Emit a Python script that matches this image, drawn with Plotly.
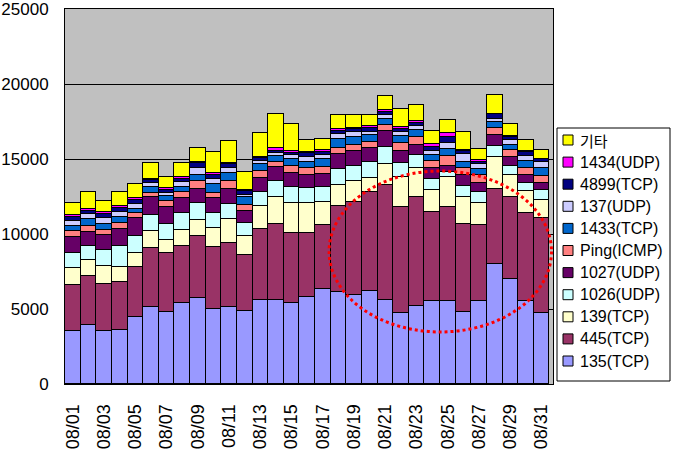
import plotly.graph_objects as go

dates = [f"08/{d:02d}" for d in range(1, 32)]
tick_labels = dates[::2]
y_ticks = [0, 5000, 10000, 15000, 20000, 25000]

s135 = [3510,3950,3510,3580,4440,5110,4780,5380,5710,4980,5160,4840,5580,5580,5380,5780,6310,6110,5910,6200,5580,4710,5220,5510,5510,4780,5510,7980,6980,5510,4710]
s445 = [3070,3230,3130,3240,3340,3930,3930,3800,4180,4180,4260,3740,4730,5060,4660,4260,4270,5760,6200,6580,7660,7070,7220,5930,6270,5860,5070,5000,5460,5870,6330]
s139 = [1130,1110,1200,960,930,1140,870,1090,1020,1260,1560,1260,1530,1800,2000,2000,1530,1370,1420,930,1400,2040,1980,1470,2040,1800,1460,2130,1470,1460,1200]
s1026 = [1050,930,1070,1400,1180,1090,1110,1110,1130,1000,1040,870,980,1070,1120,1050,1000,1070,980,1070,1140,890,870,730,340,780,740,780,650,540,690]
s1027 = [1060,940,1000,1130,1150,1170,1090,1000,960,960,960,800,890,930,930,870,870,1020,1000,930,1060,800,620,740,370,740,620,710,570,530,450]
ping = [380,400,380,450,340,320,400,440,510,380,530,400,510,380,440,420,460,430,420,420,430,580,530,460,650,420,530,440,450,470,490]
s1433 = [330,420,350,350,310,400,350,340,450,550,560,530,420,380,470,420,540,550,560,490,420,470,470,450,490,440,430,430,380,490,510]
s137 = [360,330,450,360,330,220,180,330,460,360,350,180,200,220,240,310,310,360,290,200,270,260,290,270,420,510,280,170,310,330,440]
s4899 = [220,220,270,260,250,220,220,200,290,260,220,220,200,140,180,270,200,200,220,220,170,200,180,260,400,180,180,360,220,290,160]
s1434 = [180,160,110,110,150,90,110,110,90,140,120,120,120,150,90,110,90,110,90,160,160,140,180,160,270,90,90,20,70,70,40]
other = [800,1090,750,940,890,1020,780,910,960,1370,1420,1170,1550,2270,1800,800,730,930,820,710,890,1200,1020,910,840,1220,780,1270,750,680,580]

series_names = ["135(TCP)", "445(TCP)", "139(TCP)", "1026(UDP)", "1027(UDP)", "Ping(ICMP)",
                "1433(TCP)", "137(UDP)", "4899(TCP)", "1434(UDP)", "기타"]
series_values = [s135, s445, s139, s1026, s1027, ping, s1433, s137, s4899, s1434, other]
series_colors = ["#9999FF", "#993366", "#FFFFCC", "#CCFFFF", "#660066", "#FF8080",
                 "#0066CC", "#CCCCFF", "#000080", "#FF00FF", "#FFFF00"]

fig = go.Figure()
for name, vals, color in zip(series_names, series_values, series_colors):
    fig.add_trace(go.Bar(
        x=dates, y=vals, name=name,
        marker=dict(color=color, line=dict(color="black", width=1)),
    ))

latin = "Liberation Sans, Arial, sans-serif"
korean = "Noto Sans CJK KR, sans-serif"

W, H = 673, 451
ML, MR, MT, MB = 65, 120, 9, 67
PW = W - ML - MR
PH = H - MT - MB

def px(x):
    return (x - ML) / PW

def py(y):
    return (H - MB - y) / PH

shapes = [dict(
    type="circle", xref="x", yref="y",
    x0=16.4, x1=30.63, y0=3470, y1=14200,
    line=dict(color="red", width=3, dash="dot"),
)]
annotations = []

# custom legend box (Excel style)
shapes.append(dict(type="rect", xref="paper", yref="paper",
                   x0=px(557), x1=px(670), y0=py(381), y1=py(128),
                   line=dict(color="black", width=1), fillcolor="white", layer="above"))
n = len(series_names)
for i in range(n):
    k = n - 1 - i
    yc = 140 + i * 22.1
    shapes.append(dict(type="rect", xref="paper", yref="paper",
                       x0=px(563), x1=px(573), y0=py(yc + 5), y1=py(yc - 5),
                       line=dict(color="black", width=1), fillcolor=series_colors[k], layer="above"))
    is_kr = (k == n - 1)
    annotations.append(dict(
        xref="paper", yref="paper", x=px(578), y=py(yc), xanchor="left", yanchor="middle",
        text=series_names[k], showarrow=False,
        font=dict(size=15 if is_kr else 16, family=korean if is_kr else latin, color="black"),
    ))

fig.update_layout(
    width=W, height=H,
    barmode="stack", bargap=0,
    paper_bgcolor="white", plot_bgcolor="#C0C0C0",
    margin=dict(l=ML, r=MR, t=MT, b=MB, autoexpand=False),
    font=dict(family=latin, color="black", size=17),
    showlegend=False,
    xaxis=dict(
        type="category", tickmode="array", tickvals=tick_labels, ticktext=tick_labels,
        tickangle=-90, tickfont=dict(size=18, family=latin), showline=True, linecolor="black",
        mirror=True, linewidth=1, ticks="", ticklabelstandoff=12,
    ),
    yaxis=dict(
        range=[0, 25000], tickmode="array", tickvals=y_ticks, ticktext=[str(v) for v in y_ticks],
        tickfont=dict(size=17, family=latin), ticklabeloverflow="allow",
        showgrid=True, gridcolor="black", gridwidth=1,
        showline=True, linecolor="black", mirror=True, linewidth=1,
        ticks="", ticklabelstandoff=12, zeroline=False,
    ),
    shapes=shapes,
    annotations=annotations,
)

fig.write_html("out.html", config={"displayModeBar": False},
               post_script="document.body.style.margin='0';document.body.style.overflow='hidden';")
